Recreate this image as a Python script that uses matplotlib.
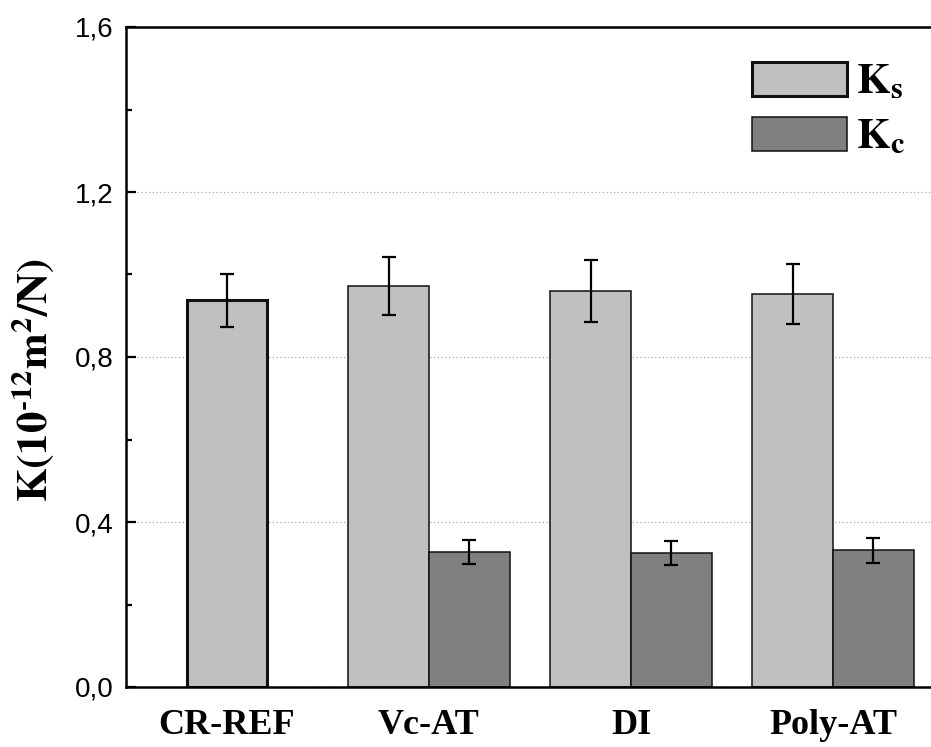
import numpy as np
import matplotlib
matplotlib.use("Agg")
import matplotlib.pyplot as plt
from matplotlib.ticker import MultipleLocator, FuncFormatter

# data
categories = ['CR-REF', 'Vc-AT', 'DI', 'Poly-AT']
ks = [0.937, 0.973, 0.960, 0.953]
ks_err = [0.064, 0.070, 0.074, 0.072]
kc = [np.nan, 0.327, 0.325, 0.331]
kc_err = [np.nan, 0.029, 0.030, 0.030]

plt.rcParams['mathtext.fontset'] = 'stix'

fig = plt.figure(figsize=(9.31, 7.47), dpi=100)
ax = fig.add_axes([126/931, 1 - 687/747, 808/931, 660/747])

idx = np.arange(len(categories))
w = 0.4
has_kc = ~np.isnan(kc)
ks_pos = np.where(has_kc, idx - w/2, idx)
kc_pos = idx + w/2

ks_lw = [2.2 if not h else 1.1 for h in has_kc]
ax.bar(ks_pos, ks, w, color='#c0c0c0', edgecolor='#111111',
       linewidth=ks_lw, zorder=2, label=r'$\mathbf{K_s}$')
ax.bar(kc_pos[has_kc], np.array(kc)[has_kc], w, color='#808080',
       edgecolor='#111111', linewidth=1.1, zorder=2, label=r'$\mathbf{K_c}$')

ax.errorbar(ks_pos, ks, yerr=ks_err, fmt='none', ecolor='black',
            elinewidth=1.6, capsize=4.7, capthick=1.6, zorder=3)
ax.errorbar(kc_pos[has_kc], np.array(kc)[has_kc], yerr=np.array(kc_err)[has_kc],
            fmt='none', ecolor='black', elinewidth=1.6, capsize=4.7,
            capthick=1.6, zorder=3)

ax.set_xlim(-0.5, 3.5)
ax.set_ylim(0, 1.6)
ax.yaxis.set_major_locator(MultipleLocator(0.4))
ax.yaxis.set_minor_locator(MultipleLocator(0.2))
ax.yaxis.set_major_formatter(FuncFormatter(lambda v, p: f'{v:.1f}'.replace('.', ',')))
ax.grid(axis='y', which='major', linestyle=(0, (1, 2)), color='#aaaaaa',
        linewidth=0.9, zorder=0)
ax.set_axisbelow(True)

ax.set_xticks(idx)
ax.set_xticklabels(categories, family='Liberation Serif', fontweight='bold',
                   fontsize=26)
ax.tick_params(axis='x', length=0, pad=16)
ax.tick_params(axis='y', which='major', direction='in', length=7, width=1.6,
               labelsize=20, pad=9)
ax.tick_params(axis='y', which='minor', direction='in', length=4, width=1.6)
for lab in ax.get_yticklabels():
    lab.set_family('Liberation Sans')

for s in ['left', 'top', 'bottom']:
    ax.spines[s].set_linewidth(1.8)
ax.spines['right'].set_visible(False)

ax.set_ylabel('$\\mathbf{K(10^{\u2010 12}m^{2}/N)}$', fontsize=31)
ax.yaxis.set_label_coords(-0.087, 0.465)

ax.legend(loc='upper right', bbox_to_anchor=(0.985, 0.975), frameon=False,
          fontsize=31, handlelength=2.2, handleheight=0.85,
          handletextpad=0.2, labelspacing=0.3, borderaxespad=0)

fig.savefig('out.png', dpi=100)
